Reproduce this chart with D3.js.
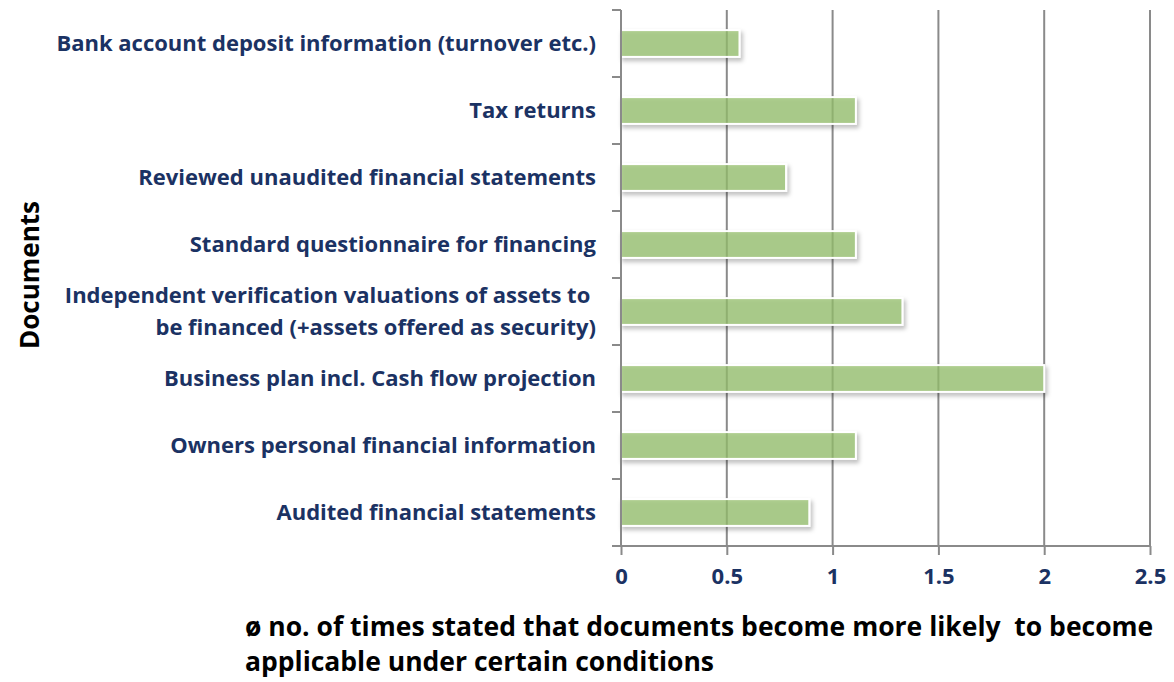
<!DOCTYPE html>
<html>
<head>
<meta charset="utf-8">
<script src="https://cdn.jsdelivr.net/npm/d3@7"></script>
<style>
  body { margin: 0; background: #fff; }
  text { font-family: "Open Sans", sans-serif; font-weight: bold; white-space: pre; }
</style>
</head>
<body>
<div id="chart"></div>
<script>
// chart data, top to bottom
var categories = [
  ["Bank account deposit information (turnover etc.)"],
  ["Tax returns"],
  ["Reviewed unaudited financial statements"],
  ["Standard questionnaire for financing"],
  ["Independent verification valuations of assets to ", "be financed (+assets offered as security)"],
  ["Business plan incl. Cash flow projection"],
  ["Owners personal financial information"],
  ["Audited financial statements"]
]
var values = [0.56, 1.11, 0.78, 1.11, 1.33, 2.0, 1.11, 0.89]
var xTicks = [0, 0.5, 1, 1.5, 2, 2.5]
var xTitle = ["ø no. of times stated that documents become more likely  to become", "applicable under certain conditions"]
var yTitle = "Documents"

var width = 1174
    height = 682
    margin = {top: 10, right: 24, bottom: 136, left: 621}

var svg = d3.select("#chart")
  .append("svg")
    .attr("width", width)
    .attr("height", height)

var defs = svg.append("defs")
var f = defs.append("filter").attr("id", "shadow").attr("x", "-5%").attr("y", "-30%").attr("width", "115%").attr("height", "190%")
f.append("feDropShadow").attr("dx", 2).attr("dy", 3).attr("stdDeviation", 2)
  .attr("flood-color", "#000").attr("flood-opacity", 0.3)

var x = d3.scaleLinear()
  .domain([0, 2.5])
  .range([margin.left, 1150])

var y = d3.scaleBand()
  .domain(d3.range(categories.length))
  .range([margin.top, 546])
  .paddingInner(0.6)
  .paddingOuter(0.3)

var band = d3.scaleBand()
  .domain(d3.range(categories.length))
  .range([margin.top, 546])

var gridColor = "#8a8a8a"

// vertical gridlines
svg.append("g")
  .selectAll("line")
  .data(xTicks.slice(1))
  .enter()
  .append("line")
    .attr("x1", function(d) { return x(d) })
    .attr("x2", function(d) { return x(d) })
    .attr("y1", margin.top)
    .attr("y2", 546)
    .attr("stroke", gridColor)
    .attr("stroke-width", 2)

// bars
svg.append("g")
  .selectAll("rect")
  .data(values)
  .enter()
  .append("rect")
    .attr("x", x(0))
    .attr("y", function(d, i) { return y(i) })
    .attr("width", function(d) { return x(d) - x(0) })
    .attr("height", y.bandwidth())
    .attr("fill", "rgba(150,192,108,0.72)")
    .attr("stroke", "#fff")
    .attr("stroke-width", 2)
    .attr("filter", "url(#shadow)")

// left axis with band ticks
var yAxis = svg.append("g")
yAxis.append("line")
  .attr("x1", x(0)).attr("x2", x(0))
  .attr("y1", margin.top).attr("y2", 546)
  .attr("stroke", gridColor).attr("stroke-width", 2)
yAxis.selectAll("line.tick")
  .data(d3.range(categories.length + 1))
  .enter()
  .append("line")
    .attr("class", "tick")
    .attr("x1", x(0) - 9).attr("x2", x(0))
    .attr("y1", function(d) { return margin.top + d * band.step() })
    .attr("y2", function(d) { return margin.top + d * band.step() })
    .attr("stroke", gridColor).attr("stroke-width", 2)

// bottom axis
var xAxis = svg.append("g")
  .attr("transform", "translate(0,546)")
  .call(d3.axisBottom(x).tickValues(xTicks).tickSize(9).tickSizeOuter(0).tickFormat(d3.format("")))
xAxis.select(".domain").remove()
xAxis.append("line")
  .attr("x1", x(0) - 9).attr("x2", x(2.5))
  .attr("stroke", gridColor).attr("stroke-width", 2)
xAxis.selectAll(".tick line").attr("stroke", gridColor).attr("stroke-width", 2)
xAxis.selectAll(".tick text")
  .attr("y", 22)
  .attr("dy", "0.71em")
  .attr("fill", "#1b3263")
  .style("font-size", "22px")
  .style("font-family", "'Open Sans', sans-serif")
  .style("font-weight", "bold")

// category labels
var labels = svg.append("g")
  .selectAll("text")
  .data(categories)
  .enter()
  .append("text")
    .attr("text-anchor", "end")
    .attr("fill", "#1b3263")
    .style("font-size", "22px")
    .attr("transform", function(d, i) {
      return "translate(596," + (band(i) + band.step() / 2) + ")"
    })
labels.selectAll("tspan")
  .data(function(d) { return d.map(function(t, j) { return {t: t, j: j, n: d.length} }) })
  .enter()
  .append("tspan")
    .attr("x", 0)
    .attr("y", function(d) { return (d.j - (d.n - 1) / 2) * 32 })
    .attr("dy", "0.35em")
    .text(function(d) { return d.t })

// y title
svg.append("text")
  .attr("transform", "translate(30,275) rotate(-90)")
  .attr("text-anchor", "middle")
  .attr("dy", "0.35em")
  .attr("fill", "#000")
  .style("font-size", "26px")
  .text(yTitle)

// x title
svg.append("g")
  .selectAll("text")
  .data(xTitle)
  .enter()
  .append("text")
    .attr("x", 245)
    .attr("y", function(d, i) { return 636 + i * 35 })
    .attr("fill", "#000")
    .style("font-size", "26.5px")
    .text(function(d) { return d })
</script>
</body>
</html>
